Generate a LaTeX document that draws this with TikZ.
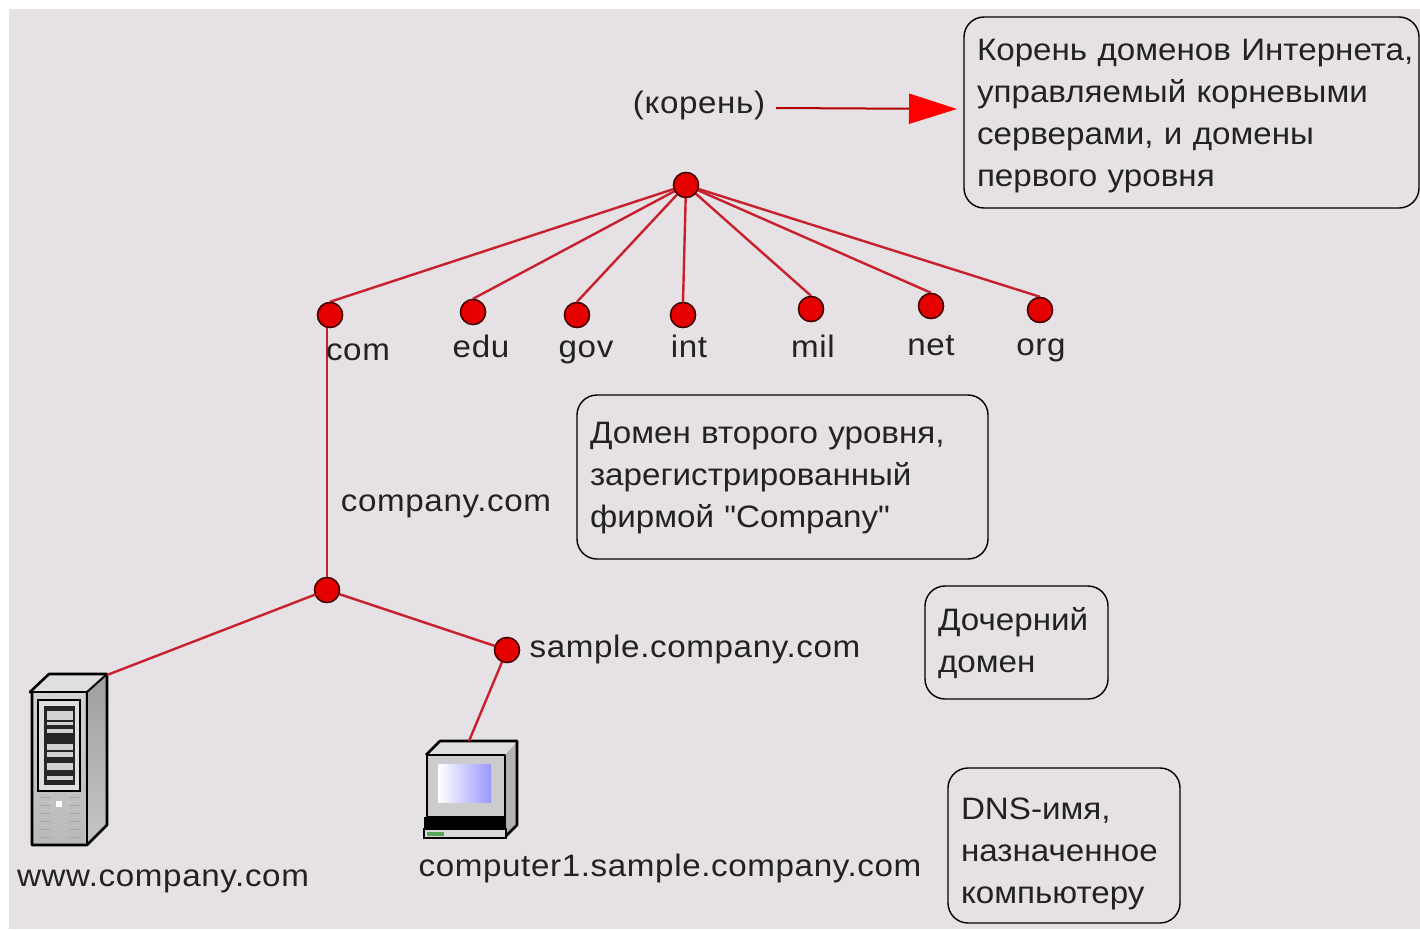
\documentclass[tikz,border=0pt]{standalone}
\usepackage{fontspec}
\setmainfont{Liberation Sans}
\newfontfamily\labelfont[LetterSpace=2,FakeStretch=1.07]{Liberation Sans}
\newfontfamily\notefont[FakeStretch=1.07]{Liberation Sans}
\usetikzlibrary{arrows.meta}
\definecolor{paper}{HTML}{E6E1E4}
\definecolor{wire}{HTML}{C8202C}
\definecolor{ink}{HTML}{222222}

\begin{document}
\begin{tikzpicture}[x=1pt,y=-1pt,line width=2.4pt,
  dot/.style={circle,fill=red!90!black,draw=black!75!red,line width=1.4pt,inner sep=0pt,minimum size=25pt},
  lbl/.style={anchor=base,font=\labelfont\fontsize{31}{42}\selectfont,text=ink,inner sep=0pt},
  note/.style={draw=black,line width=1.4pt,rounded corners=20pt,inner xsep=13pt,inner ysep=0pt,align=left,
    font=\notefont\fontsize{31}{42}\selectfont,text=ink},
  wire line/.style={wire},
  case/.style={draw=black,line width=2.6pt,line join=round}]

  \useasboundingbox (0,0) rectangle (1420,929);
  \fill[paper] (9,9) rectangle (1420,929);

  % the tree
  \node[dot] (root) at (686,185) {};
  \node[dot] (com) at (330,315) {};
  \node[dot] (edu) at (473,312) {};
  \node[dot] (gov) at (577,315) {};
  \node[dot] (int) at (683,315) {};
  \node[dot] (mil) at (811,309) {};
  \node[dot] (net) at (931,306) {};
  \node[dot] (org) at (1040,310) {};
  \node[dot] (company) at (327,590) {};
  \node[dot] (sample) at (507,650) {};
  \coordinate (www) at (107,675);
  \coordinate (computer) at (469,741);
  \coordinate (arrowtail) at (776,108);
  \coordinate (arrowtip) at (957,109);

  % server
  \fill[gray!25] (30,688) -- (49,674) -- (107,674) -- (85,693) -- cycle;
  \shade[top color=gray!75,bottom color=gray!45] (85,693) -- (107,674) -- (107,825) -- (85,845) -- cycle;
  \shade[top color=gray!35,bottom color=gray!55] (32,693) rectangle (85,845);
  \draw[case] (30,692) -- (49,674) -- (107,674) -- (107,825) -- (87,845) -- (32,845) -- (32,692) -- cycle;
  \draw[case] (32,692) -- (87,692) -- (87,845);
  \draw[case,line width=2pt] (87,692) -- (107,674);
  \fill[gray!25] (38,700) rectangle (80,791);
  \draw[black,line width=2pt] (38,700) rectangle (80,791);
  \fill[black!85] (44,706) rectangle (75,785);
  \foreach \ya/\yb in {711/720,722/725,729/733,744/750,752/757,763/770,776/780}
    \fill[gray!35] (47,\ya) rectangle (73,\yb);
  \foreach \yr in {797,805,813,821,829,837} {
    \draw[gray!70,line width=1pt] (39,\yr) -- (50,\yr);
    \draw[gray!70,line width=1pt] (70,\yr) -- (80,\yr);
  }
  \fill[white] (56,801) rectangle (62,807);

  % computer
  \fill[gray!25] (426,755) -- (440,742) -- (517,742) -- (505,755) -- cycle;
  \fill[gray!60] (505,755) -- (517,742) -- (517,825) -- (505,835) -- cycle;
  \fill[gray!40] (427,755) rectangle (505,817);
  \draw[case] (426,755) -- (440,741) -- (517,741) -- (517,825) -- (506,836);
  \draw[case] (427,755) rectangle (505,817);
  \shade[left color=white,right color=blue!40] (438,764) rectangle (491,802);
  \fill[black] (424,817) rectangle (506,830);
  \fill[gray!30] (424,829) rectangle (506,838);
  \draw[black,line width=1.4pt] (424,829) rectangle (506,838);
  \fill[green!30!gray] (427,832) rectangle (444,836);

  % links
  \foreach \leaf in {com,edu,gov,int,mil,net,org}
    \draw[wire line] (root) -- (\leaf.north);
  \draw[wire line] (company |- com) -- (company);
  \draw[wire line] (company) -- (www);
  \draw[wire line] (company) -- (sample);
  \draw[wire line] (sample) -- (computer);
  \foreach \leaf in {root,com,edu,gov,int,mil,net,org,company,sample}
    \node[dot] at (\leaf) {};

  % labels
  \node[lbl] (rootlabel) at (699,113) {(корень)};
  \node[lbl] (comlabel) at (358,360) {com};
  \node[lbl] (edulabel) at (481,357) {edu};
  \node[lbl] (govlabel) at (586,357) {gov};
  \node[lbl] (intlabel) at (689,357) {int};
  \node[lbl] (millabel) at (813,357) {mil};
  \node[lbl] (netlabel) at (931,355) {net};
  \node[lbl] (orglabel) at (1041,355) {org};
  \node[lbl] (companylabel) at (446,511) {company.com};
  \node[lbl] (samplelabel) at (695,657) {sample.company.com};
  \node[lbl] (wwwlabel) at (163,886) {www.company.com};
  \node[lbl] (computerlabel) at (670,876) {computer1.sample.company.com};

  % notes
  \node[note,text width=429pt,minimum height=191pt] (rootnote) at (1191.5,112.5)
    {\rule{0pt}{28pt}\mbox{Корень доменов Интернета,}\\управляемый корневыми\\серверами, и домены\\первого уровня};
  \node[note,text width=385pt,minimum height=164pt] (secondnote) at (782.5,477)
    {\rule{0pt}{24pt}Домен второго уровня,\\зарегистрированный\\фирмой "Company"};
  \node[note,text width=157pt,minimum height=113pt] (childnote) at (1016.5,642.5)
    {\rule{0pt}{24pt}Дочерний\\домен};
  \node[note,text width=206pt,minimum height=155pt] (dnsnote) at (1064,845.5)
    {\rule{0pt}{38pt}DNS-имя,\\назначенное\\компьютеру};

  \draw[red!70!black,line width=2pt,-{Triangle[length=48pt,width=30pt,fill=red,color=red]}] (arrowtail) -- (arrowtip);
\end{tikzpicture}
\end{document}
